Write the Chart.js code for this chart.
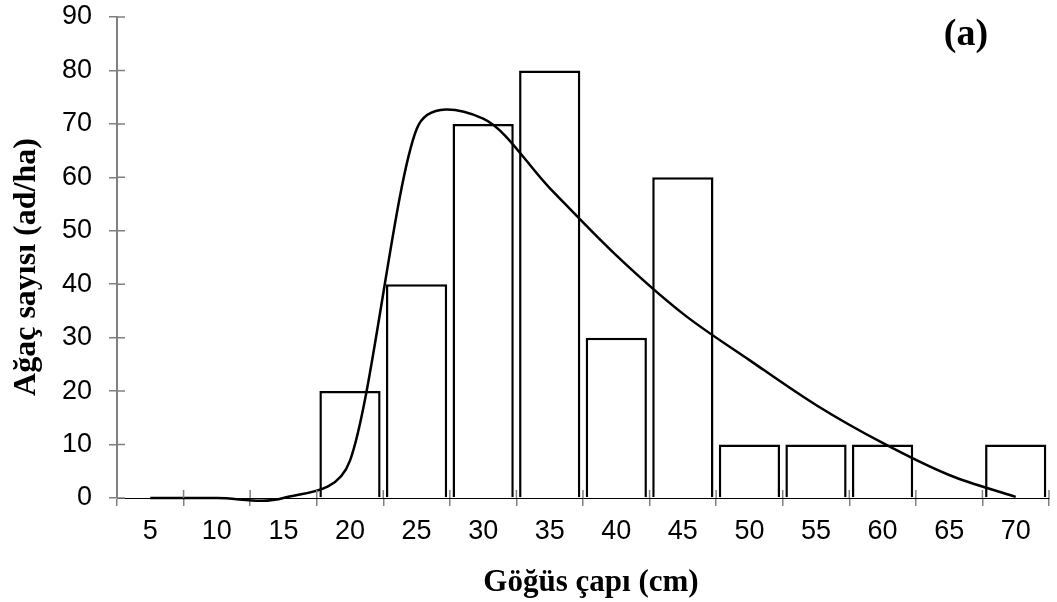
<!DOCTYPE html>
<html>
<head>
<meta charset="utf-8">
<script src="https://cdn.jsdelivr.net/npm/chart.js@4.4.0/dist/chart.umd.min.js"></script>
<style>
  html, body { margin: 0; padding: 0; background: #fff; }
  #wrap { width: 1057px; height: 602px; }
</style>
</head>
<body>
<div id="wrap"><canvas id="mycanvas"></canvas></div>
<script>
// diameter classes (cm)
var diameterLabels = ['5', '10', '15', '20', '25', '30', '35', '40', '45', '50', '55', '60', '65', '70'];
// observed trees per hectare
var treeCounts = [0, 0, 0, 20, 40, 70, 80, 30, 60, 10, 10, 10, 0, 10];
// fitted distribution curve
var fittedCurve = [0, 0, 0, 7, 69, 71, 58, 45.4, 34.5, 25.8, 17.4, 10.3, 4.3, 0.2];
var yTicks = [0, 10, 20, 30, 40, 50, 60, 70, 80, 90];

// spreadsheet-like smoothing: chart.js spline, but control arms kept within a third of each segment
var smoothCurve = {
  id: 'smoothCurve',
  beforeDatasetsDraw: function (chart) {
    var meta = chart.getDatasetMeta(0);
    var pts = meta.data;
    var t = 0.5;
    for (var i = 0; i < pts.length; i++) {
      var p = pts[i], prev = pts[i - 1] || p, next = pts[i + 1] || p;
      var d01 = Math.hypot(p.x - prev.x, p.y - prev.y);
      var d12 = Math.hypot(next.x - p.x, next.y - p.y);
      var s = (d01 + d12) || 1;
      var dx = next.x - prev.x, dy = next.y - prev.y;
      var ax = t * d01 / s * dx, ay = t * d01 / s * dy;
      var bx = t * d12 / s * dx, by = t * d12 / s * dy;
      var lim1 = (p.x - prev.x) / 3, lim2 = (next.x - p.x) / 3;
      if (ax > lim1 && ax > 0) { ay *= lim1 / ax; ax = lim1; }
      if (bx > lim2 && bx > 0) { by *= lim2 / bx; bx = lim2; }
      p.cp1x = p.x - ax; p.cp1y = p.y - ay;
      p.cp2x = p.x + bx; p.cp2y = p.y + by;
    }
    meta.dataset._pointsUpdated = true;
  }
};

// small tick halves inside the plot, like the original crossing ticks, plus the titles
var innerTicks = {
  id: 'innerTicks',
  afterDraw: function (chart) {
    var ctx = chart.ctx;
    var x = chart.scales.x, y = chart.scales.y;
    ctx.save();
    ctx.strokeStyle = '#808080';
    ctx.lineWidth = 1.5;
    ctx.beginPath();
    var n = diameterLabels.length;
    var half = (x.getPixelForValue(1) - x.getPixelForValue(0)) / 2;
    for (var i = 0; i <= n; i++) {
      var px = x.getPixelForValue(i) - half;
      ctx.moveTo(px, y.bottom);
      ctx.lineTo(px, y.bottom - 8);
    }
    for (var j = 0; j < yTicks.length; j++) {
      var py = y.getPixelForValue(yTicks[j]);
      ctx.moveTo(x.left, py);
      ctx.lineTo(x.left + 8, py);
    }
    ctx.stroke();
    ctx.fillStyle = '#000';
    ctx.textAlign = 'center';
    ctx.textBaseline = 'middle';
    // x axis title (slightly right of centre, as in the original)
    ctx.font = 'bold 31px "Liberation Serif", "Times New Roman", serif';
    ctx.fillText('Göğüs çapı (cm)', 591, 583);
    // y axis title
    ctx.save();
    ctx.translate(27, 267);
    ctx.rotate(-Math.PI / 2);
    ctx.font = 'bold 32px "Liberation Serif", "Times New Roman", serif';
    ctx.fillText('Ağaç sayısı (ad/ha)', 0, 0);
    ctx.restore();
    // panel label
    ctx.font = 'bold 38px "Liberation Serif", "Times New Roman", serif';
    ctx.fillText('(a)', 966, 35);
    ctx.restore();
  }
};

var ctx = document.getElementById('mycanvas');

var chart = new Chart(ctx, {
  data: {
    labels: diameterLabels,
    datasets: [{
      type: 'line',
      label: 'Fitted',
      data: fittedCurve,
      borderColor: '#000',
      borderWidth: 2.5,
      pointRadius: 0,
      tension: 0.5,
      fill: false,
      clip: false,
      order: 0
    }, {
      type: 'bar',
      label: 'Observed',
      data: treeCounts,
      backgroundColor: '#fff',
      borderColor: '#000',
      borderWidth: 2.5,
      barPercentage: 0.92,
      categoryPercentage: 1,
      order: 1
    }]
  },
  options: {
    responsive: true,
    maintainAspectRatio: false,
    animation: false,
    layout: { padding: { top: 0, right: 8, left: 0, bottom: 0 } },
    plugins: {
      legend: { display: false },
      tooltip: { enabled: false }
    },
    scales: {
      x: {
        offset: true,
        grid: {
          display: true,
          drawOnChartArea: false,
          offset: true,
          color: '#808080',
          lineWidth: 1.5,
          tickLength: 8
        },
        border: { color: '#000', width: 1 },
        ticks: {
          color: '#000',
          padding: 9,
          maxRotation: 0,
          autoSkip: false,
          font: { family: '"Liberation Sans", Arial, sans-serif', size: 27 }
        },
        afterFit: function (scale) { scale.height = 104; }
      },
      y: {
        min: 0,
        max: 90,
        grid: {
          display: true,
          drawOnChartArea: false,
          color: '#808080',
          lineWidth: 1.5,
          tickLength: 8
        },
        border: { color: '#808080', width: 2 },
        ticks: {
          stepSize: 10,
          color: '#000',
          padding: 17,
          font: { family: '"Liberation Sans", Arial, sans-serif', size: 27 }
        },
        afterFit: function (scale) {
          scale.width = 117;
          scale.paddingTop = 17;
          scale.paddingBottom = 0;
        }
      }
    }
  },
  plugins: [smoothCurve, innerTicks]
});
</script>
</body>
</html>
